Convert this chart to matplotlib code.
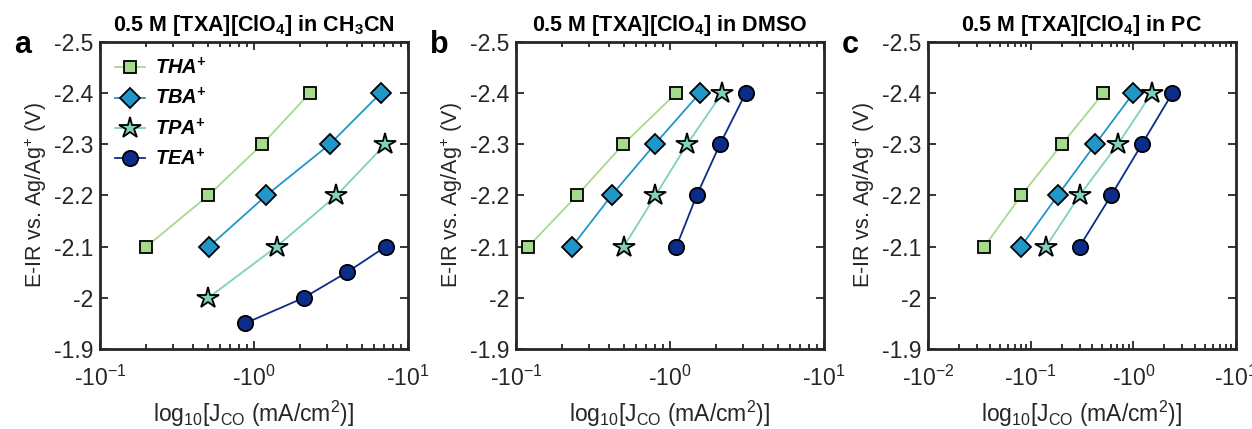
import matplotlib
matplotlib.use("Agg")
import matplotlib.pyplot as plt
from matplotlib.ticker import FuncFormatter, LogLocator, NullFormatter
import numpy as np

plt.rcParams['font.family'] = ['Liberation Sans', 'DejaVu Sans']
plt.rcParams['mathtext.default'] = 'regular'

# Potentials (V vs Ag/Ag+) for each cation
E_main = [-2.1, -2.2, -2.3, -2.4]
E_tpa_a = [-2.0, -2.1, -2.2, -2.3]
E_tea_a = [-1.95, -2.0, -2.05, -2.1]

cations = ['THA', 'TBA', 'TPA', 'TEA']
colors = ['#a6da8c', '#2196c8', '#7fd0bd', '#0c2c8a']
markers = ['s', 'D', '*', 'o']
msizes = [9, 10.5, 16, 11]

# Partial current density magnitudes |J_CO| (mA/cm2)
# CH3CN
jA_tha = [0.20, 0.505, 1.13, 2.30]
jA_tba = [0.51, 1.20, 3.10, 6.65]
jA_tpa = [0.505, 1.40, 3.43, 7.13]
jA_tea = [0.873, 2.10, 4.02, 7.16]
# DMSO
jB_tha = [0.120, 0.249, 0.497, 1.097]
jB_tba = [0.231, 0.417, 0.796, 1.56]
jB_tpa = [0.501, 0.805, 1.29, 2.18]
jB_tea = [1.10, 1.49, 2.11, 3.10]
# PC
jC_tha = [0.0353, 0.0809, 0.201, 0.511]
jC_tba = [0.0803, 0.183, 0.425, 1.00]
jC_tpa = [0.141, 0.299, 0.706, 1.51]
jC_tea = [0.299, 0.608, 1.21, 2.40]

panels = [
    dict(letter='a', solvent='CH$_3$CN', xlim=(0.1, 10),
         j=[jA_tha, jA_tba, jA_tpa, jA_tea],
         e=[E_main, E_main, E_tpa_a, E_tea_a], legend=True),
    dict(letter='b', solvent='DMSO', xlim=(0.1, 10),
         j=[jB_tha, jB_tba, jB_tpa, jB_tea],
         e=[E_main] * 4, legend=False),
    dict(letter='c', solvent='PC', xlim=(0.01, 10),
         j=[jC_tha, jC_tba, jC_tpa, jC_tea],
         e=[E_main] * 4, legend=False),
]

W, H = 1252, 429
fig = plt.figure(figsize=(W / 100, H / 100), dpi=100)

lefts = [100, 516, 928]
ax_w = 308
ax_top, ax_bot = 42, 349

def neg_pow(x, pos):
    k = int(round(np.log10(x)))
    return '-10$^{%d}$' % k

edge = '#262626'
for p, left in zip(panels, lefts):
    ax = fig.add_axes([left / W, 1 - ax_bot / H, ax_w / W, (ax_bot - ax_top) / H])
    for jj, ee, name, c, m, ms in zip(p['j'], p['e'], cations, colors, markers, msizes):
        ax.plot(jj, ee, color=c, lw=1.3, marker=m, ms=ms, mfc=c, mec='black',
                mew=1.3, label=name + '$^{+}$')
    ax.set_xscale('log')
    ax.set_xlim(*p['xlim'])
    ax.set_ylim(-1.9, -2.5)
    ax.set_yticks([-2.5, -2.4, -2.3, -2.2, -2.1, -2.0, -1.9])
    ax.set_yticklabels(['-2.5', '-2.4', '-2.3', '-2.2', '-2.1', '-2', '-1.9'])
    ax.xaxis.set_major_locator(LogLocator(base=10, numticks=10))
    ax.xaxis.set_major_formatter(FuncFormatter(neg_pow))
    ax.xaxis.set_minor_locator(LogLocator(base=10, subs=np.arange(2, 10), numticks=20))
    ax.xaxis.set_minor_formatter(NullFormatter())
    ax.tick_params(axis='both', which='both', direction='in', top=True, right=True,
                   color=edge, width=1.3)
    ax.tick_params(axis='both', which='major', length=6, labelsize=16.5,
                   labelcolor='#262626', pad=5)
    ax.tick_params(axis='x', which='major', pad=12)
    ax.tick_params(axis='both', which='minor', length=3.5)
    for s in ax.spines.values():
        s.set_linewidth(2)
        s.set_color(edge)
    ax.set_title('0.5 M [TXA][ClO$_4$] in ' + p['solvent'], fontsize=15.5,
                 fontweight='bold', pad=8)
    ax.set_xlabel('log$_{10}$[J$_{CO}$ (mA/cm$^{2}$)]', fontsize=16.5,
                  color='#262626', labelpad=6)
    ax.set_ylabel('E-IR vs. Ag/Ag$^{+}$ (V)', fontsize=15.5, color='#262626',
                  labelpad=3)
    fig.text((left - 86) / W, 1 - 45 / H, p['letter'], fontsize=22,
             fontweight='bold', va='center', ha='left')
    if p['legend']:
        leg = ax.legend(loc='upper left', frameon=False, handlelength=1.5,
                        handletextpad=0.5, labelspacing=0.45, borderaxespad=0.35,
                        prop=dict(size=14.5, weight='bold', style='italic'))

fig.savefig('out.png', dpi=100)
